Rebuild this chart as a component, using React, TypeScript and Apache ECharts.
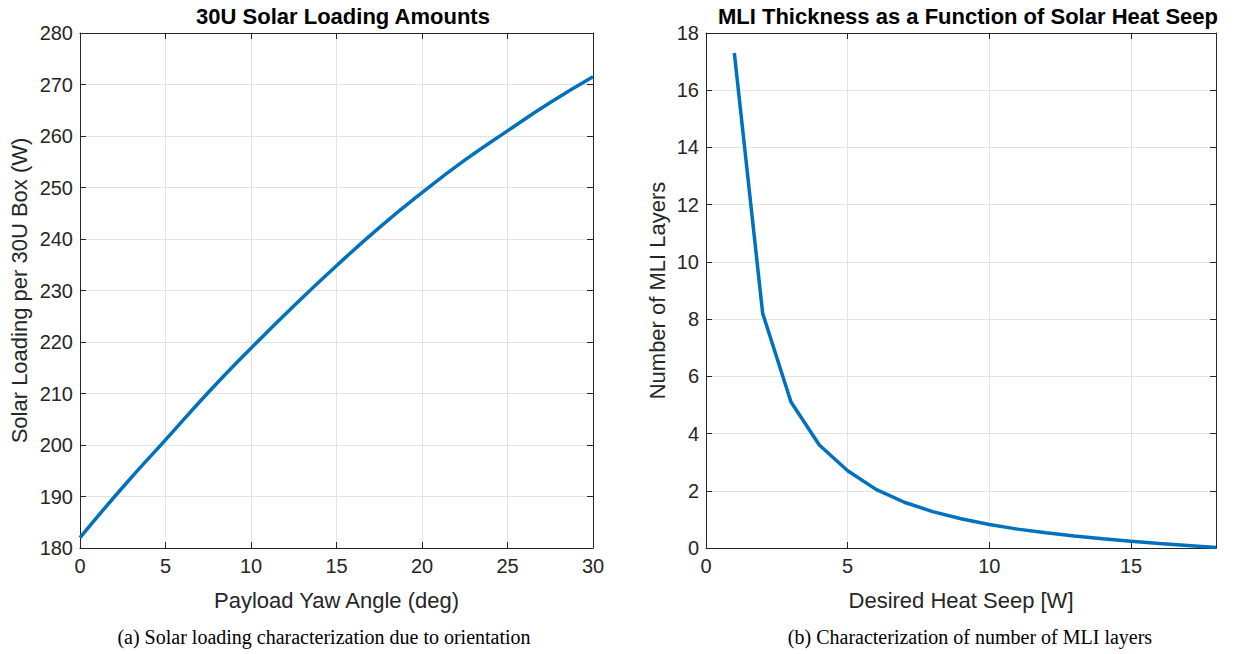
import React, { useEffect, useRef } from "react";
import * as echarts from "echarts";

const yawAngles = [0, 2.5, 5, 7.5, 10, 12.5, 15, 17.5, 20, 22.5, 25, 27.5, 30];
const solarLoading = [182, 191.8, 201, 210.2, 218.8, 227, 234.8, 242.2, 249, 255.3, 261, 266.5, 271.5];

const heatSeep = [1, 2, 3, 4, 5, 6, 7, 8, 9, 10, 11, 12, 13, 14, 15, 16, 17, 18];
const mliLayers = [17.3, 8.2, 5.1, 3.6, 2.7, 2.05, 1.6, 1.27, 1.02, 0.82, 0.66, 0.53, 0.42, 0.32, 0.24, 0.16, 0.09, 0.02];

const leftTitle = "30U Solar Loading Amounts";
const rightTitle = "MLI Thickness as a Function of Solar Heat Seep";
const leftXName = "Payload Yaw Angle (deg)";
const leftYName = "Solar Loading per 30U Box (W)";
const rightXName = "Desired Heat Seep [W]";
const rightYName = "Number of MLI Layers";
const captionA = "(a) Solar loading characterization due to orientation";
const captionB = "(b) Characterization of number of MLI layers";

const AX = "#262626";
const FONT = "'Liberation Sans', Arial, Helvetica, sans-serif";
const TICK_FS = 20;
const NAME_FS = 22;

function mainX(gridIndex: number, min: number, max: number, interval: number, name: string) {
  return {
    type: "value",
    gridIndex,
    min,
    max,
    interval,
    position: "bottom",
    name,
    nameLocation: "middle",
    nameGap: 41,
    nameTextStyle: { color: AX, fontSize: NAME_FS, fontFamily: FONT },
    axisLine: { show: true, onZero: false, lineStyle: { color: AX, width: 1 } },
    axisTick: { show: true, inside: true, length: 6, lineStyle: { color: AX } },
    axisLabel: { color: AX, fontSize: TICK_FS, fontFamily: FONT, margin: 8, showMaxLabel: max % interval === 0 },
    splitLine: { show: true, lineStyle: { color: "#e3e3e3", width: 1 } },
  };
}
function mainY(gridIndex: number, min: number, max: number, interval: number, name: string, gap: number) {
  return {
    type: "value",
    gridIndex,
    min,
    max,
    interval,
    position: "left",
    name,
    nameLocation: "middle",
    nameGap: gap,
    nameTextStyle: { color: AX, fontSize: NAME_FS, fontFamily: FONT },
    axisLine: { show: true, onZero: false, lineStyle: { color: AX, width: 1 } },
    axisTick: { show: true, inside: true, length: 6, lineStyle: { color: AX } },
    axisLabel: { color: AX, fontSize: TICK_FS, fontFamily: FONT, margin: 7 },
    splitLine: { show: true, lineStyle: { color: "#e3e3e3", width: 1 } },
  };
}
function boxX(gridIndex: number, min: number, max: number, interval: number) {
  return {
    type: "value",
    gridIndex,
    min,
    max,
    interval,
    position: "top",
    axisLine: { show: true, onZero: false, lineStyle: { color: AX, width: 1 } },
    axisTick: { show: true, inside: true, length: 6, lineStyle: { color: AX } },
    axisLabel: { show: false },
    splitLine: { show: false },
  };
}
function boxY(gridIndex: number, min: number, max: number, interval: number) {
  return {
    type: "value",
    gridIndex,
    min,
    max,
    interval,
    position: "right",
    axisLine: { show: true, onZero: false, lineStyle: { color: AX, width: 1 } },
    axisTick: { show: true, inside: true, length: 6, lineStyle: { color: AX } },
    axisLabel: { show: false },
    splitLine: { show: false },
  };
}

export default function App() {
  const ref = useRef<HTMLDivElement>(null);
  useEffect(() => {
    if (!ref.current) return;
    const chart = echarts.init(ref.current, undefined, { renderer: "svg" });
    const captionStyle = {
      fill: "#000",
      fontSize: 20,
      fontFamily: "'Liberation Serif', 'Times New Roman', serif",
      align: "center",
      verticalAlign: "middle",
    };
    chart.setOption({
      animation: false,
      backgroundColor: "#ffffff",
      title: [
        {
          text: leftTitle,
          left: 338,
          top: 0,
          textAlign: "center",
          textStyle: { color: "#000", fontSize: 22, fontWeight: "bold", fontFamily: FONT },
        },
        {
          text: rightTitle,
          left: 963,
          top: 0,
          textAlign: "center",
          textStyle: { color: "#000", fontSize: 22, fontWeight: "bold", fontFamily: FONT },
        },
      ],
      grid: [
        { left: 80, right: 643, top: 33, bottom: 106 },
        { left: 706, right: 20, top: 33, bottom: 106 },
      ],
      xAxis: [
        mainX(0, 0, 30, 5, leftXName),
        mainX(1, 0, 18, 5, rightXName),
        boxX(0, 0, 30, 5),
        boxX(1, 0, 18, 5),
      ],
      yAxis: [
        mainY(0, 180, 280, 10, leftYName, 50),
        mainY(1, 0, 18, 2, rightYName, 38),
        boxY(0, 180, 280, 10),
        boxY(1, 0, 18, 2),
      ],
      series: [
        {
          type: "line",
          xAxisIndex: 0,
          yAxisIndex: 0,
          data: yawAngles.map((x, i) => [x, solarLoading[i]]),
          smooth: true,
          showSymbol: false,
          lineStyle: { color: "#0072BD", width: 3.5 },
        },
        {
          type: "line",
          xAxisIndex: 1,
          yAxisIndex: 1,
          data: heatSeep.map((x, i) => [x, mliLayers[i]]),
          showSymbol: false,
          lineStyle: { color: "#0072BD", width: 3.5 },
        },
      ],
      graphic: [
        { type: "text", x: 324, y: 637, style: { ...captionStyle, text: captionA } },
        { type: "text", x: 970, y: 637, style: { ...captionStyle, text: captionB } },
      ],
    });
    return () => chart.dispose();
  }, []);
  return (
    <div
      ref={ref}
      style={{ position: "fixed", left: 0, top: 0, width: 1236, height: 654 }}
    />
  );
}
